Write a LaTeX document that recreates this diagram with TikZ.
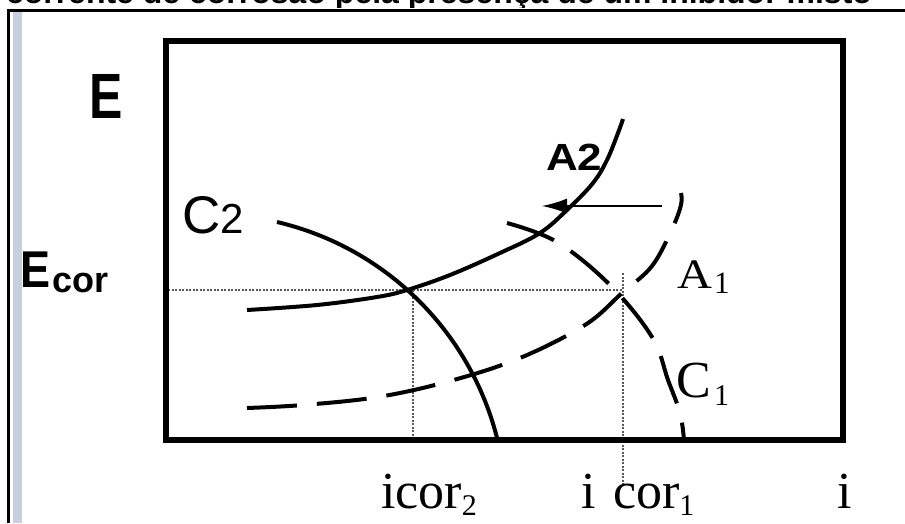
\documentclass[tikz,border=0pt]{standalone}
\usepackage{fontspec}
\setmainfont{Liberation Serif}
\newfontfamily\arial{Liberation Sans}
\usetikzlibrary{arrows.meta}
\definecolor{stripe}{RGB}{200,208,224}
\begin{document}
\begin{tikzpicture}[x=1pt,y=-1pt,
  lbl/.style={inner sep=0pt, outer sep=0pt, anchor=base west},
  axisbox/.style={line width=5.5pt},
  solidcurve/.style={line width=4pt},
  dashcurve/.style={line width=4pt, dash pattern=on 50pt off 20pt},
  guide/.style={line width=2.2pt, dash pattern=on 2pt off 1.5pt, black!65},
  shiftarrow/.style={line width=1.5pt, -{Latex[length=25pt,width=15pt]}},
]
\useasboundingbox (0,0) rectangle (905,523);
\fill[white] (0,0) rectangle (905,523);

% title, cut by the top edge of the picture
\begin{scope}
\clip (0,0) rectangle (905,7.5);
\node[lbl, font=\arial\bfseries\fontsize{32}{32}\selectfont] (title) at (6,3) {corrente de corrosão pela presença de um inibidor misto};
\end{scope}

% outer frame
\fill[stripe] (13,12) rectangle (22,523);
\draw[line width=3pt] (8.5,523) -- (8.5,10.5) -- (905,10.5);

% guide lines
\coordinate (Yax) at (168,290);
\coordinate (P1) at (623,290);
\coordinate (V2top) at (413,290);
\coordinate (V2bot) at (413,440);
\coordinate (V1top) at (623,273);
\coordinate (V1bot) at (623,485);
\draw[guide] (Yax) -- (P1);
\draw[guide] (V2top) -- (V2bot);
\draw[guide] (V1top) -- (V1bot);

% curves
\draw[solidcurve] plot[smooth, tension=0.6] coordinates {(247,310) (317,305) (377,297) (407,290) (450,275) (500,253) (540,233) (568,209) (593,183) (607,160) (618,133) (623,119)};
\draw[solidcurve] (277,222) arc[start angle=-76.8, end angle=-13.8, radius=297];
\draw[dashcurve] plot[smooth, tension=0.6] coordinates {(247,408) (303,405) (378,397) (450,381) (520,358) (585,325) (622,293) (652,266) (672,229) (681,205) (681,193)};
\draw[dashcurve] plot[smooth, tension=0.6] coordinates {(507,223) (557,242) (610,285) (652,337) (668,380) (680,413) (684,440)};

% shift arrow
\coordinate (arrS) at (662,206);
\coordinate (arrE) at (542,206);
\draw[shiftarrow] (arrS) -- (arrE);

% axes box
\draw[axisbox] (166,41) rectangle (843,440);

% labels
\node[lbl, font=\arial\bfseries\fontsize{50}{50}\selectfont] (E) at (89,118) {\scalebox{1}[1.28]{E}};
\node[lbl, font=\arial\bfseries\fontsize{45}{45}\selectfont] (Ecor) at (20,287) {\scalebox{1}[1.15]{E}};
\node[lbl, font=\arial\bfseries\fontsize{36}{36}\selectfont] (Ecorsub) at (52,292) {cor};
\node[lbl, font=\arial\fontsize{53}{53}\selectfont] (C2) at (182,233) {C\fontsize{42}{42}\selectfont 2};
\node[lbl, font=\arial\bfseries\fontsize{44}{44}\selectfont] (A2) at (546,170) {\scalebox{1}[0.86]{A2}};
\node[lbl, font=\fontsize{42}{42}\selectfont] (A1) at (677,288) {\scalebox{1.15}[1]{A}};
\node[lbl, font=\fontsize{31}{31}\selectfont] (A1s) at (714,293) {1};
\node[lbl, font=\fontsize{52}{52}\selectfont] (C1) at (676,397) {C};
\node[lbl, font=\fontsize{30}{30}\selectfont] (C1s) at (714,405) {1};
\node[lbl, font=\fontsize{52}{52}\selectfont] (icor2) at (381,508) {icor\fontsize{30}{30}\selectfont\raisebox{-7pt}{2}};
\node[lbl, font=\fontsize{52}{52}\selectfont] (icor1i) at (581,508) {i};
\node[lbl, font=\fontsize{52}{52}\selectfont] (icor1) at (613,508) {cor\fontsize{30}{30}\selectfont\raisebox{-7pt}{1}};
\node[lbl, font=\fontsize{52}{52}\selectfont] (iax) at (837,508) {i};
\end{tikzpicture}
\end{document}
